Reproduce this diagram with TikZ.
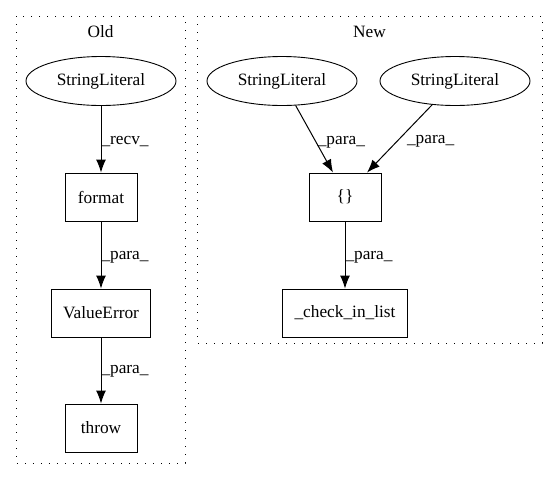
\documentclass[tikz,border=0pt]{standalone}
\usepackage{fontspec}
\setmainfont{Liberation Serif}
\usetikzlibrary{arrows.meta,shapes.geometric}
\begin{document}
\begin{tikzpicture}[x=1pt,y=-1pt,
	every node/.style={font=\fontsize{17.3}{20}\selectfont},
	box/.style={draw, line width=0.9pt, minimum width=72pt, minimum height=48pt, inner xsep=12pt},
	lit/.style={draw, ellipse, line width=0.9pt, minimum width=150pt, minimum height=49pt, inner sep=0pt},
	cluster/.style={line width=1pt, dash pattern=on 1.2pt off 6.8pt},
	edge/.style={-{Latex[length=13pt,width=10pt]}, line width=1pt},
	lbl/.style={anchor=west, inner sep=0pt}]
	\useasboundingbox (0,0) rectangle (557,480);
	\draw[cluster] (16,16) rectangle (185,463);
	\draw[cluster] (197,16) rectangle (542,343);
	\node (Old) at (100.5,32) {Old};
	\node (New) at (369.5,32) {New};
	\node (OldLit) at (101,81) [lit] {StringLiteral};
	\node (Format) at (101,197) [box] {format};
	\node (ValueError) at (101,313) [box] {ValueError};
	\node (Throw) at (101,428) [box] {throw};
	\node (NewLitA) at (282,81) [lit] {StringLiteral};
	\node (NewLitB) at (455,81) [lit] {StringLiteral};
	\node (Braces) at (345,197) [box] {\{\}};
	\node (CheckInList) at (345,313) [box] {\_check\_in\_list};
	\draw[edge] (OldLit) -- (Format) node[lbl, midway, yshift=-2pt] {\_recv\_};
	\draw[edge] (Format) -- (ValueError) node[lbl, midway, yshift=-2pt] {\_para\_};
	\draw[edge] (ValueError) -- (Throw) node[lbl, midway, yshift=-1pt] {\_para\_};
	\draw[edge] (NewLitA) -- ([xshift=-12pt]Braces.north) node[lbl, midway, xshift=3pt, yshift=-3pt] {\_para\_};
	\draw[edge] (NewLitB) -- ([xshift=22pt]Braces.north) node[lbl, midway, xshift=7pt, yshift=-3pt] {\_para\_};
	\draw[edge] (Braces) -- (CheckInList) node[lbl, midway, yshift=-2pt] {\_para\_};
\end{tikzpicture}
\end{document}
